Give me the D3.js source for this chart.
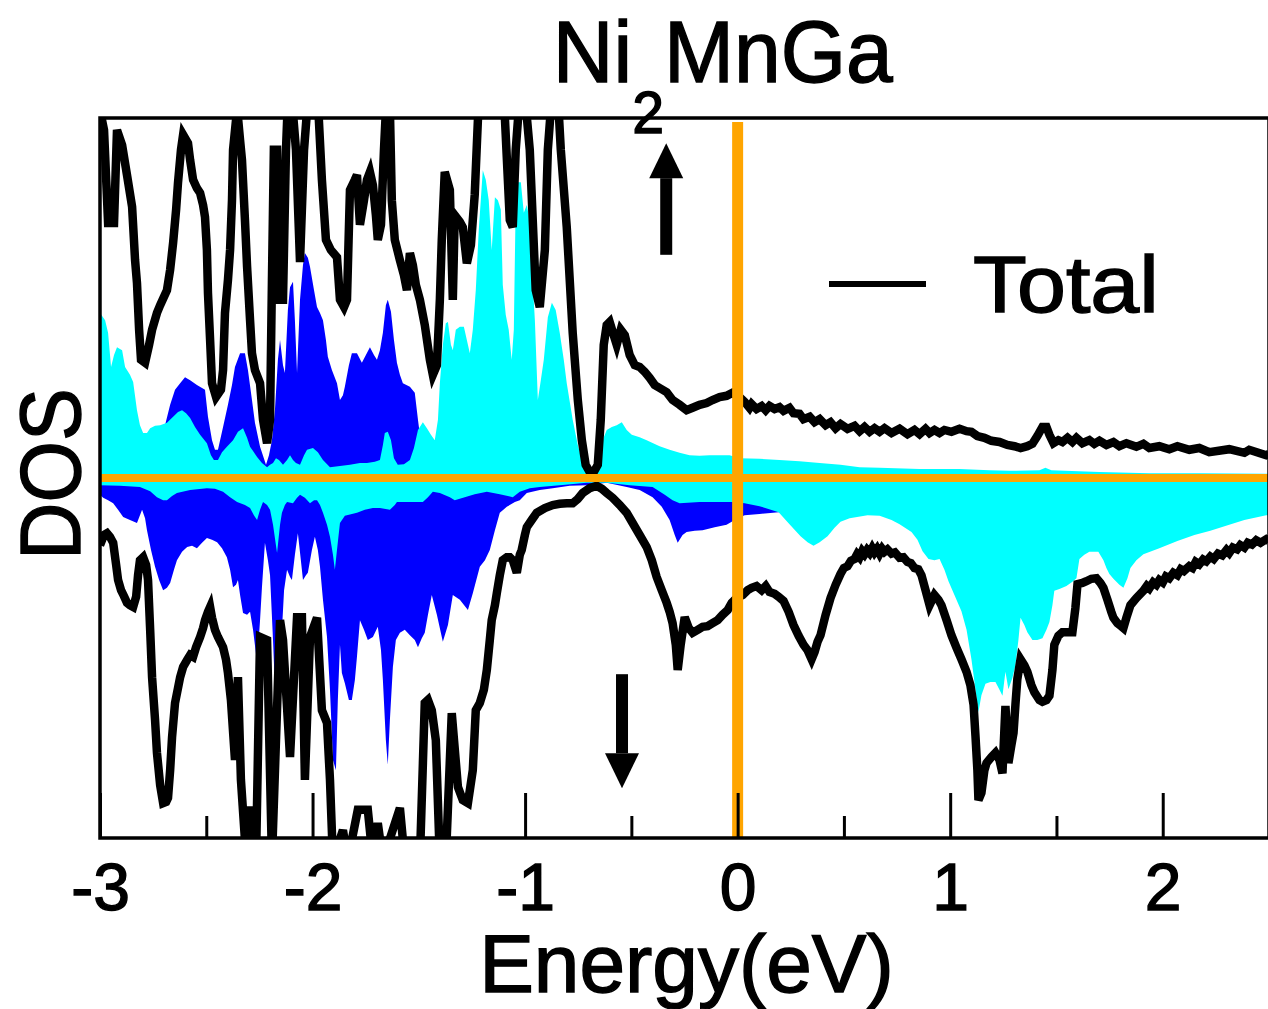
<!DOCTYPE html>
<html>
<head>
<meta charset="utf-8">
<script src="https://cdn.jsdelivr.net/npm/d3@7"></script>
<style>
  html, body { margin: 0; padding: 0; background: #fff; }
  svg { display: block; font-family: "Liberation Sans", Arial, Helvetica, sans-serif; }
  .label { fill: #000; stroke: #000; stroke-width: 1.4; }
</style>
</head>
<body>
<svg id="chart" width="1268" height="1009"></svg>
<script>
// Spin-resolved density of states of Ni2MnGa, energies in eV relative to E_F.
// Each series is a list of [energy, DOS]; spin-down values are negative.

const majorTicks = [-3, -2, -1, 0, 1, 2];
const minorTicks = [-2.5, -1.5, -0.5, 0.5, 1.5];

// Total DOS, spin up
const totalUp = [
  [-3.000, 6.13], [-2.981, 5.80], [-2.962, 4.25], [-2.934, 4.25], [-2.920, 5.80], [-2.896, 5.55],
  [-2.873, 5.05], [-2.849, 4.52], [-2.835, 3.63], [-2.826, 3.25], [-2.816, 2.47], [-2.807, 1.97],
  [-2.788, 1.92], [-2.769, 2.22], [-2.755, 2.47], [-2.732, 2.75], [-2.717, 2.88], [-2.685, 3.13],
  [-2.670, 3.47], [-2.656, 3.92], [-2.642, 4.47], [-2.633, 4.92], [-2.619, 5.47], [-2.609, 5.72],
  [-2.586, 5.58], [-2.576, 5.30], [-2.562, 4.97], [-2.544, 4.83], [-2.529, 4.75], [-2.515, 4.55],
  [-2.506, 4.35], [-2.497, 3.80], [-2.492, 3.08], [-2.482, 2.30], [-2.473, 1.58], [-2.454, 1.35],
  [-2.431, 1.47], [-2.421, 1.80], [-2.412, 2.75], [-2.398, 3.30], [-2.388, 3.80], [-2.379, 4.63],
  [-2.374, 5.47], [-2.360, 5.97], [-2.355, 6.17], [-2.341, 5.63], [-2.332, 5.30], [-2.318, 4.30],
  [-2.308, 3.52], [-2.294, 2.63], [-2.285, 2.08], [-2.271, 1.80], [-2.247, 1.58], [-2.233, 0.97],
  [-2.214, 0.58], [-2.200, 0.97], [-2.191, 3.30], [-2.182, 5.47], [-2.167, 5.47], [-2.153, 2.97],
  [-2.139, 2.97], [-2.125, 5.47], [-2.116, 6.30], [-2.097, 6.30], [-2.078, 5.47], [-2.059, 3.60],
  [-2.040, 5.47], [-2.022, 6.30], [-1.975, 6.30], [-1.956, 4.97], [-1.937, 3.97], [-1.914, 3.80],
  [-1.885, 3.68], [-1.871, 2.97], [-1.852, 2.85], [-1.838, 2.97], [-1.824, 4.80], [-1.801, 4.97],
  [-1.791, 5.05], [-1.777, 4.22], [-1.758, 4.63], [-1.744, 4.97], [-1.730, 5.10], [-1.716, 4.88],
  [-1.702, 4.38], [-1.693, 3.97], [-1.678, 4.22], [-1.664, 5.47], [-1.655, 6.13], [-1.636, 6.13],
  [-1.627, 4.63], [-1.613, 3.97], [-1.589, 3.63], [-1.570, 3.38], [-1.556, 3.13], [-1.542, 3.75],
  [-1.528, 3.55], [-1.514, 3.22], [-1.495, 2.97], [-1.472, 2.55], [-1.448, 1.97], [-1.434, 1.72],
  [-1.415, 1.88], [-1.401, 2.97], [-1.392, 3.97], [-1.378, 5.10], [-1.354, 4.80], [-1.340, 2.97],
  [-1.331, 4.38], [-1.307, 4.27], [-1.293, 4.18], [-1.274, 3.58], [-1.255, 3.88], [-1.237, 4.72],
  [-1.222, 5.97], [-1.204, 6.38], [-1.119, 6.38], [-1.095, 6.00], [-1.072, 4.30], [-1.058, 4.18],
  [-1.044, 5.47], [-1.025, 6.38], [-1.001, 6.38], [-0.978, 5.47], [-0.950, 3.13], [-0.931, 2.85],
  [-0.907, 3.80], [-0.893, 5.47], [-0.874, 6.38], [-0.846, 6.38], [-0.832, 5.47], [-0.804, 4.18],
  [-0.776, 2.42], [-0.752, 1.30], [-0.733, 0.63], [-0.715, 0.22], [-0.696, 0.10], [-0.677, 0.10],
  [-0.658, 0.22], [-0.644, 0.97], [-0.630, 2.22], [-0.616, 2.55], [-0.602, 2.60], [-0.583, 2.38],
  [-0.569, 2.22], [-0.550, 2.47], [-0.531, 2.38], [-0.508, 2.05], [-0.484, 1.88], [-0.461, 1.85],
  [-0.437, 1.77], [-0.414, 1.67], [-0.390, 1.55], [-0.367, 1.50], [-0.334, 1.43], [-0.306, 1.30],
  [-0.273, 1.22], [-0.240, 1.13], [-0.212, 1.17], [-0.179, 1.22], [-0.146, 1.25], [-0.118, 1.30],
  [-0.085, 1.35], [-0.052, 1.37], [-0.024, 1.42], [0.000, 1.38], [0.033, 1.27], [0.056, 1.17],
  [0.066, 1.23], [0.089, 1.15], [0.113, 1.20], [0.132, 1.13], [0.150, 1.20], [0.174, 1.15],
  [0.197, 1.18], [0.216, 1.12], [0.244, 1.17], [0.263, 1.08], [0.291, 1.07], [0.310, 0.98],
  [0.339, 1.02], [0.362, 0.93], [0.386, 0.98], [0.414, 0.88], [0.437, 0.93], [0.461, 0.83],
  [0.484, 0.90], [0.517, 0.82], [0.550, 0.87], [0.574, 0.78], [0.597, 0.85], [0.621, 0.77],
  [0.644, 0.83], [0.668, 0.77], [0.691, 0.83], [0.724, 0.75], [0.762, 0.82], [0.799, 0.73],
  [0.832, 0.80], [0.856, 0.73], [0.884, 0.82], [0.903, 0.75], [0.926, 0.80], [0.950, 0.75],
  [0.973, 0.80], [1.006, 0.77], [1.044, 0.82], [1.077, 0.78], [1.100, 0.77], [1.128, 0.70],
  [1.161, 0.67], [1.194, 0.62], [1.232, 0.60], [1.269, 0.55], [1.302, 0.53], [1.331, 0.50],
  [1.363, 0.53], [1.387, 0.57], [1.410, 0.70], [1.434, 0.85], [1.453, 0.85], [1.467, 0.72],
  [1.486, 0.58], [1.509, 0.63], [1.528, 0.60], [1.552, 0.67], [1.575, 0.60], [1.594, 0.67],
  [1.622, 0.58], [1.655, 0.63], [1.678, 0.57], [1.702, 0.62], [1.735, 0.55], [1.768, 0.60],
  [1.796, 0.53], [1.829, 0.58], [1.876, 0.52], [1.909, 0.57], [1.937, 0.50], [1.984, 0.53],
  [2.031, 0.48], [2.069, 0.53], [2.125, 0.47], [2.172, 0.50], [2.219, 0.43], [2.313, 0.48],
  [2.384, 0.42], [2.407, 0.47], [2.487, 0.38], [2.500, 0.40]
];

// Total DOS, spin down
const totalDown = [
  [-3.000, -1.12], [-2.981, -0.95], [-2.967, -0.92], [-2.953, -0.98], [-2.938, -1.08], [-2.924, -1.45],
  [-2.915, -1.70], [-2.901, -1.87], [-2.887, -1.97], [-2.873, -2.08], [-2.859, -2.12], [-2.844, -2.15],
  [-2.830, -1.98], [-2.821, -1.62], [-2.812, -1.37], [-2.797, -1.32], [-2.783, -1.45], [-2.774, -1.70],
  [-2.764, -2.53], [-2.755, -3.32], [-2.741, -4.03], [-2.732, -4.58], [-2.717, -5.12], [-2.703, -5.42],
  [-2.689, -5.40], [-2.680, -5.33], [-2.670, -4.87], [-2.661, -4.32], [-2.647, -3.75], [-2.633, -3.50],
  [-2.623, -3.32], [-2.609, -3.15], [-2.590, -3.03], [-2.576, -2.95], [-2.562, -2.98], [-2.548, -2.82],
  [-2.529, -2.65], [-2.515, -2.50], [-2.506, -2.37], [-2.492, -2.23], [-2.482, -2.15], [-2.473, -2.33],
  [-2.459, -2.53], [-2.445, -2.65], [-2.421, -2.82], [-2.407, -3.03], [-2.398, -3.25], [-2.384, -3.70],
  [-2.365, -4.70], [-2.351, -3.32], [-2.337, -5.03], [-2.318, -6.03], [-2.294, -5.48], [-2.280, -5.92],
  [-2.266, -6.37], [-2.247, -2.65], [-2.214, -2.70], [-2.191, -6.37], [-2.153, -2.37], [-2.139, -2.70],
  [-2.106, -4.65], [-2.073, -2.32], [-2.050, -2.32], [-2.036, -5.03], [-2.012, -2.65], [-1.979, -2.33],
  [-1.956, -3.87], [-1.932, -4.08], [-1.918, -5.03], [-1.904, -6.37], [-1.857, -5.87], [-1.834, -6.37],
  [-1.787, -5.53], [-1.740, -5.53], [-1.716, -6.37], [-1.693, -5.75], [-1.669, -6.37], [-1.589, -5.50],
  [-1.566, -6.37], [-1.495, -6.37], [-1.472, -3.75], [-1.457, -3.70], [-1.439, -3.87], [-1.420, -4.37],
  [-1.401, -6.37], [-1.373, -6.37], [-1.345, -3.92], [-1.316, -5.15], [-1.293, -5.37], [-1.269, -5.42],
  [-1.246, -4.87], [-1.232, -3.87], [-1.213, -3.75], [-1.194, -3.53], [-1.180, -3.20], [-1.166, -2.70],
  [-1.157, -2.37], [-1.142, -2.12], [-1.133, -1.92], [-1.119, -1.62], [-1.105, -1.37], [-1.086, -1.32],
  [-1.072, -1.32], [-1.058, -1.37], [-1.039, -1.58], [-1.025, -1.28], [-1.016, -1.20], [-1.001, -0.95],
  [-0.992, -0.82], [-0.969, -0.70], [-0.945, -0.58], [-0.907, -0.50], [-0.870, -0.45], [-0.837, -0.43],
  [-0.804, -0.42], [-0.776, -0.42], [-0.752, -0.35], [-0.729, -0.25], [-0.696, -0.17], [-0.663, -0.13],
  [-0.639, -0.18], [-0.616, -0.25], [-0.588, -0.33], [-0.555, -0.45], [-0.522, -0.58], [-0.494, -0.75],
  [-0.461, -0.95], [-0.428, -1.15], [-0.404, -1.37], [-0.381, -1.65], [-0.357, -1.87], [-0.334, -2.08],
  [-0.320, -2.23], [-0.306, -2.42], [-0.291, -2.78], [-0.282, -3.20], [-0.268, -2.78], [-0.249, -2.32],
  [-0.230, -2.50], [-0.212, -2.58], [-0.188, -2.53], [-0.165, -2.48], [-0.141, -2.47], [-0.118, -2.42],
  [-0.094, -2.37], [-0.071, -2.28], [-0.047, -2.20], [-0.028, -2.08], [-0.005, -2.00], [0.024, -1.95],
  [0.047, -1.87], [0.066, -1.83], [0.089, -1.80], [0.113, -1.87], [0.132, -1.80], [0.150, -1.90],
  [0.174, -1.93], [0.193, -1.98], [0.216, -2.05], [0.240, -2.23], [0.263, -2.45], [0.287, -2.63],
  [0.310, -2.78], [0.329, -2.87], [0.348, -3.02], [0.362, -2.90], [0.376, -2.73], [0.390, -2.62],
  [0.414, -2.28], [0.437, -2.00], [0.461, -1.78], [0.484, -1.60], [0.500, -1.50], [0.517, -1.47],
  [0.533, -1.38], [0.550, -1.35], [0.562, -1.27], [0.574, -1.32], [0.586, -1.22], [0.597, -1.27],
  [0.609, -1.20], [0.621, -1.25], [0.633, -1.17], [0.644, -1.24], [0.656, -1.18], [0.668, -1.26],
  [0.680, -1.18], [0.691, -1.23], [0.705, -1.19], [0.724, -1.26], [0.740, -1.24], [0.762, -1.33],
  [0.780, -1.32], [0.799, -1.40], [0.815, -1.42], [0.832, -1.50], [0.850, -1.52], [0.865, -1.62],
  [0.884, -1.87], [0.903, -2.12], [0.926, -1.95], [0.945, -2.03], [0.959, -2.12], [0.983, -2.37],
  [1.006, -2.62], [1.030, -2.83], [1.053, -3.02], [1.077, -3.23], [1.095, -3.45], [1.110, -3.78],
  [1.119, -4.30], [1.128, -4.87], [1.133, -5.37], [1.147, -5.25], [1.161, -4.87], [1.171, -4.75],
  [1.194, -4.65], [1.213, -4.58], [1.232, -4.70], [1.246, -4.92], [1.260, -3.80], [1.269, -4.37],
  [1.274, -4.75], [1.288, -4.45], [1.298, -4.25], [1.307, -3.78], [1.316, -3.35], [1.331, -3.02],
  [1.349, -3.12], [1.363, -3.23], [1.382, -3.45], [1.396, -3.57], [1.420, -3.70], [1.434, -3.73],
  [1.453, -3.70], [1.467, -3.63], [1.481, -3.20], [1.490, -2.78], [1.509, -2.63], [1.528, -2.57],
  [1.552, -2.57], [1.575, -2.57], [1.589, -2.17], [1.599, -1.77], [1.622, -1.75], [1.641, -1.72],
  [1.664, -1.68], [1.688, -1.67], [1.707, -1.75], [1.721, -1.83], [1.740, -2.03], [1.758, -2.23],
  [1.768, -2.33], [1.787, -2.42], [1.805, -2.47], [1.815, -2.50], [1.829, -2.33], [1.848, -2.12],
  [1.876, -2.00], [1.909, -1.88], [1.925, -1.80], [1.937, -1.84], [1.955, -1.74], [1.970, -1.78],
  [1.984, -1.70], [2.000, -1.74], [2.015, -1.64], [2.031, -1.67], [2.050, -1.58], [2.069, -1.62],
  [2.085, -1.52], [2.100, -1.55], [2.125, -1.47], [2.140, -1.50], [2.155, -1.40], [2.172, -1.44],
  [2.190, -1.36], [2.205, -1.39], [2.224, -1.31], [2.240, -1.35], [2.260, -1.26], [2.280, -1.29],
  [2.300, -1.20], [2.313, -1.25], [2.330, -1.16], [2.350, -1.19], [2.365, -1.12], [2.384, -1.16],
  [2.400, -1.08], [2.420, -1.11], [2.440, -1.04], [2.460, -1.08], [2.487, -1.02], [2.500, -1.05]
];

// Mn partial DOS, spin up
const mnUp = [
  [-3.000, 2.75], [-2.976, 2.63], [-2.962, 2.42], [-2.948, 1.85], [-2.934, 2.05], [-2.920, 2.18],
  [-2.896, 2.13], [-2.882, 1.85], [-2.859, 1.72], [-2.844, 1.60], [-2.826, 1.13], [-2.812, 0.88],
  [-2.797, 0.75], [-2.779, 0.75], [-2.764, 0.83], [-2.741, 0.87], [-2.717, 0.88], [-2.685, 0.92],
  [-2.656, 1.02], [-2.633, 1.10], [-2.614, 1.13], [-2.595, 1.08], [-2.576, 1.00], [-2.553, 0.85],
  [-2.529, 0.72], [-2.497, 0.58], [-2.478, 0.38], [-2.464, 0.30], [-2.445, 0.30], [-2.426, 0.43],
  [-2.403, 0.52], [-2.374, 0.63], [-2.351, 0.77], [-2.327, 0.83], [-2.308, 0.67], [-2.294, 0.52],
  [-2.276, 0.43], [-2.261, 0.35], [-2.238, 0.25], [-2.214, 0.18], [-2.200, 0.22], [-2.186, 0.25],
  [-2.172, 0.33], [-2.158, 0.30], [-2.139, 0.22], [-2.120, 0.30], [-2.106, 0.38], [-2.092, 0.30],
  [-2.078, 0.25], [-2.059, 0.22], [-2.040, 0.38], [-2.026, 0.47], [-1.998, 0.50], [-1.975, 0.43],
  [-1.951, 0.30], [-1.918, 0.18], [-1.871, 0.20], [-1.824, 0.22], [-1.777, 0.25], [-1.744, 0.25],
  [-1.707, 0.27], [-1.683, 0.30], [-1.669, 0.55], [-1.660, 0.75], [-1.646, 0.77], [-1.631, 0.63],
  [-1.617, 0.33], [-1.599, 0.22], [-1.570, 0.23], [-1.542, 0.30], [-1.523, 0.50], [-1.504, 0.80],
  [-1.481, 0.93], [-1.462, 0.83], [-1.443, 0.72], [-1.425, 0.63], [-1.410, 0.97], [-1.401, 1.58],
  [-1.387, 2.22], [-1.373, 2.58], [-1.363, 2.60], [-1.349, 2.22], [-1.340, 2.13], [-1.326, 2.47],
  [-1.307, 2.52], [-1.288, 2.52], [-1.269, 2.22], [-1.260, 2.08], [-1.246, 2.47], [-1.232, 3.13],
  [-1.218, 4.13], [-1.199, 5.13], [-1.185, 4.97], [-1.171, 4.63], [-1.157, 3.80], [-1.142, 4.68],
  [-1.128, 4.63], [-1.114, 4.47], [-1.105, 3.22], [-1.091, 2.72], [-1.077, 2.47], [-1.063, 1.97],
  [-1.053, 2.47], [-1.044, 4.63], [-1.034, 4.93], [-1.020, 4.93], [-1.006, 4.42], [-0.992, 4.55],
  [-0.983, 4.38], [-0.969, 3.55], [-0.954, 2.63], [-0.940, 1.30], [-0.926, 1.63], [-0.912, 1.97],
  [-0.893, 2.68], [-0.874, 2.92], [-0.856, 2.80], [-0.837, 2.42], [-0.818, 1.97], [-0.804, 1.58],
  [-0.776, 0.97], [-0.752, 0.55], [-0.733, 0.30], [-0.710, 0.13], [-0.668, 0.13], [-0.649, 0.43],
  [-0.635, 0.63], [-0.616, 0.80], [-0.592, 0.85], [-0.569, 0.88], [-0.545, 0.93], [-0.522, 0.80],
  [-0.498, 0.72], [-0.461, 0.68], [-0.428, 0.63], [-0.367, 0.53], [-0.320, 0.47], [-0.273, 0.42],
  [-0.226, 0.38], [-0.179, 0.37], [-0.132, 0.38], [-0.085, 0.38], [-0.038, 0.38], [0.009, 0.33],
  [0.103, 0.32], [0.197, 0.30], [0.291, 0.28], [0.386, 0.25], [0.484, 0.22], [0.574, 0.18],
  [0.668, 0.17], [0.856, 0.15], [1.044, 0.15], [1.185, 0.13], [1.279, 0.12], [1.420, 0.13],
  [1.448, 0.17], [1.476, 0.13], [1.702, 0.10], [1.937, 0.08], [2.172, 0.08], [2.487, 0.07],
  [2.500, 0.07]
];

// Mn partial DOS, spin down
const mnDown = [
  [-3.000, -0.12], [-2.906, -0.13], [-2.812, -0.15], [-2.764, -0.22], [-2.732, -0.32], [-2.703, -0.37],
  [-2.685, -0.37], [-2.661, -0.30], [-2.638, -0.25], [-2.576, -0.20], [-2.497, -0.17], [-2.459, -0.18],
  [-2.421, -0.23], [-2.388, -0.32], [-2.355, -0.40], [-2.318, -0.45], [-2.294, -0.50], [-2.276, -0.62],
  [-2.261, -0.70], [-2.247, -0.53], [-2.233, -0.40], [-2.214, -0.45], [-2.200, -0.53], [-2.186, -0.78],
  [-2.167, -1.25], [-2.153, -0.78], [-2.144, -0.58], [-2.130, -0.45], [-2.120, -0.40], [-2.092, -0.42],
  [-2.073, -0.33], [-2.059, -0.28], [-2.036, -0.33], [-2.012, -0.42], [-1.993, -0.37], [-1.979, -0.37],
  [-1.965, -0.45], [-1.951, -0.58], [-1.932, -0.78], [-1.918, -0.98], [-1.904, -1.28], [-1.895, -1.53],
  [-1.885, -1.20], [-1.871, -0.75], [-1.848, -0.63], [-1.791, -0.58], [-1.754, -0.53], [-1.716, -0.50],
  [-1.683, -0.50], [-1.636, -0.53], [-1.613, -0.45], [-1.603, -0.40], [-1.542, -0.40], [-1.481, -0.40],
  [-1.457, -0.32], [-1.434, -0.23], [-1.401, -0.25], [-1.354, -0.32], [-1.331, -0.37], [-1.284, -0.32],
  [-1.237, -0.27], [-1.180, -0.23], [-1.119, -0.27], [-1.058, -0.32], [-1.025, -0.23], [-0.978, -0.17],
  [-0.931, -0.15], [-0.837, -0.12], [-0.710, -0.08], [-0.616, -0.08], [-0.508, -0.12], [-0.400, -0.15],
  [-0.343, -0.28], [-0.306, -0.37], [-0.273, -0.42], [-0.179, -0.40], [-0.085, -0.40], [-0.014, -0.40],
  [0.033, -0.42], [0.103, -0.47], [0.193, -0.57], [0.244, -0.77], [0.296, -0.97], [0.329, -1.07],
  [0.357, -1.13], [0.386, -1.07], [0.423, -0.97], [0.456, -0.83], [0.484, -0.73], [0.527, -0.67],
  [0.611, -0.62], [0.668, -0.63], [0.724, -0.70], [0.762, -0.77], [0.818, -0.90], [0.846, -1.03],
  [0.870, -1.22], [0.898, -1.35], [0.926, -1.37], [0.950, -1.35], [0.973, -1.53], [0.992, -1.72],
  [1.020, -1.95], [1.053, -2.22], [1.077, -2.53], [1.100, -3.02], [1.119, -3.53], [1.133, -3.90],
  [1.147, -3.62], [1.166, -3.43], [1.189, -3.40], [1.213, -3.40], [1.232, -3.53], [1.246, -3.63],
  [1.260, -3.23], [1.274, -3.52], [1.293, -3.33], [1.307, -3.12], [1.321, -2.70], [1.331, -2.33],
  [1.349, -2.45], [1.363, -2.57], [1.387, -2.70], [1.410, -2.70], [1.434, -2.67], [1.453, -2.53],
  [1.467, -2.40], [1.481, -2.12], [1.490, -1.88], [1.514, -1.85], [1.547, -1.80], [1.575, -1.73],
  [1.594, -1.67], [1.608, -1.35], [1.631, -1.28], [1.655, -1.23], [1.697, -1.23], [1.721, -1.37],
  [1.735, -1.50], [1.749, -1.60], [1.768, -1.68], [1.796, -1.78], [1.815, -1.83], [1.834, -1.67],
  [1.848, -1.50], [1.876, -1.37], [1.909, -1.27], [1.984, -1.17], [2.069, -1.05], [2.149, -0.95],
  [2.224, -0.88], [2.313, -0.78], [2.384, -0.70], [2.487, -0.62], [2.500, -0.62]
];

// Ni partial DOS, spin up
const niUp = [
  [-3.000, 0.47], [-2.859, 0.38], [-2.764, 0.55], [-2.717, 0.67], [-2.694, 0.88], [-2.670, 1.22],
  [-2.647, 1.47], [-2.623, 1.58], [-2.600, 1.68], [-2.576, 1.63], [-2.544, 1.55], [-2.506, 1.47],
  [-2.492, 1.02], [-2.473, 0.63], [-2.459, 0.47], [-2.445, 0.47], [-2.421, 0.85], [-2.398, 1.22],
  [-2.379, 1.55], [-2.365, 1.85], [-2.341, 2.08], [-2.318, 2.08], [-2.304, 1.80], [-2.285, 1.30],
  [-2.271, 0.92], [-2.247, 0.52], [-2.219, 0.22], [-2.205, 0.38], [-2.191, 0.63], [-2.177, 1.13],
  [-2.163, 1.97], [-2.153, 2.30], [-2.139, 1.88], [-2.130, 1.75], [-2.116, 2.80], [-2.106, 3.18],
  [-2.092, 3.27], [-2.083, 2.63], [-2.073, 1.75], [-2.059, 2.97], [-2.045, 3.55], [-2.036, 3.75],
  [-2.022, 3.67], [-2.012, 3.52], [-1.993, 3.13], [-1.979, 2.85], [-1.965, 2.75], [-1.951, 2.63],
  [-1.937, 2.30], [-1.928, 2.02], [-1.909, 1.80], [-1.885, 1.58], [-1.871, 1.30], [-1.857, 1.38],
  [-1.848, 1.52], [-1.829, 1.88], [-1.815, 2.08], [-1.791, 2.08], [-1.768, 1.92], [-1.749, 2.05],
  [-1.730, 2.18], [-1.711, 2.05], [-1.697, 1.97], [-1.683, 2.13], [-1.669, 2.42], [-1.655, 2.88],
  [-1.646, 2.97], [-1.631, 2.77], [-1.617, 2.30], [-1.603, 1.92], [-1.589, 1.72], [-1.575, 1.58],
  [-1.542, 1.52], [-1.519, 1.42], [-1.504, 0.97], [-1.486, 0.47], [-1.448, 0.30], [-1.354, 0.27],
  [-1.119, 0.20], [-0.766, 0.15], [-0.696, 0.06], [-0.625, 0.08], [-0.179, 0.08], [2.487, 0.03],
  [2.500, 0.03]
];

// Ni partial DOS, spin down
const niDown = [
  [-3.000, -0.28], [-2.985, -0.33], [-2.962, -0.37], [-2.938, -0.42], [-2.915, -0.53], [-2.891, -0.65],
  [-2.859, -0.70], [-2.826, -0.75], [-2.812, -0.62], [-2.802, -0.53], [-2.788, -0.67], [-2.779, -0.87],
  [-2.760, -1.20], [-2.741, -1.48], [-2.722, -1.70], [-2.703, -1.87], [-2.685, -1.83], [-2.670, -1.75],
  [-2.652, -1.53], [-2.638, -1.37], [-2.614, -1.23], [-2.590, -1.15], [-2.567, -1.13], [-2.544, -1.17],
  [-2.520, -1.08], [-2.497, -1.00], [-2.473, -1.03], [-2.449, -1.07], [-2.426, -1.17], [-2.403, -1.32],
  [-2.388, -1.53], [-2.374, -1.82], [-2.360, -1.78], [-2.351, -1.70], [-2.341, -1.95], [-2.327, -2.25],
  [-2.308, -2.28], [-2.294, -2.23], [-2.280, -2.53], [-2.261, -3.08], [-2.247, -2.37], [-2.238, -1.82],
  [-2.224, -1.08], [-2.210, -1.37], [-2.200, -1.62], [-2.186, -2.70], [-2.172, -3.92], [-2.158, -3.95],
  [-2.149, -2.87], [-2.134, -1.87], [-2.120, -1.53], [-2.106, -1.65], [-2.097, -1.70], [-2.083, -1.28],
  [-2.069, -0.92], [-2.055, -1.37], [-2.045, -1.70], [-2.031, -1.62], [-2.022, -1.58], [-2.003, -1.20],
  [-1.989, -0.98], [-1.975, -1.20], [-1.965, -1.48], [-1.951, -2.03], [-1.932, -2.65], [-1.918, -3.53],
  [-1.904, -4.70], [-1.890, -4.87], [-1.881, -3.70], [-1.871, -2.78], [-1.862, -3.25], [-1.848, -3.42],
  [-1.829, -3.70], [-1.815, -3.70], [-1.801, -3.37], [-1.791, -2.98], [-1.777, -2.37], [-1.758, -2.53],
  [-1.740, -2.70], [-1.716, -2.65], [-1.693, -2.48], [-1.678, -2.87], [-1.669, -3.37], [-1.655, -4.37],
  [-1.646, -4.78], [-1.636, -4.03], [-1.622, -3.15], [-1.608, -2.70], [-1.589, -2.58], [-1.566, -2.53],
  [-1.542, -2.62], [-1.519, -2.70], [-1.504, -2.82], [-1.486, -2.67], [-1.472, -2.58], [-1.457, -2.28],
  [-1.439, -1.95], [-1.415, -2.28], [-1.387, -2.73], [-1.363, -2.45], [-1.340, -1.95], [-1.307, -2.03],
  [-1.269, -2.20], [-1.246, -1.92], [-1.213, -1.48], [-1.189, -1.37], [-1.166, -1.20], [-1.142, -0.87],
  [-1.119, -0.58], [-1.086, -0.48], [-1.048, -0.40], [-1.025, -0.37], [-0.992, -0.25], [-0.931, -0.20],
  [-0.870, -0.17], [-0.790, -0.13], [-0.710, -0.12], [-0.616, -0.08], [-0.522, -0.15], [-0.461, -0.20],
  [-0.400, -0.32], [-0.357, -0.48], [-0.320, -0.70], [-0.296, -0.95], [-0.282, -1.08], [-0.259, -0.95],
  [-0.240, -0.90], [-0.202, -0.88], [-0.165, -0.87], [-0.108, -0.82], [-0.052, -0.78], [0.000, -0.67],
  [0.033, -0.62], [0.103, -0.60], [0.193, -0.57], [0.244, -0.62], [0.611, -0.50], [1.232, -0.45],
  [2.487, -0.37], [2.500, -0.37]
];

// ---- layout ----
const svg = d3.select("#chart");
const plot = { left: 100, right: 1269, top: 118, bottom: 838 };

const x = d3.scaleLinear().domain([-3, 2.5]).range([plot.left, plot.right]);
const y = d3.scaleLinear().domain([-6, 6]).range([plot.bottom, plot.top]);

svg.append("rect").attr("width", 1268).attr("height", 1009).attr("fill", "#fff");

svg.append("defs").append("clipPath").attr("id", "plotClip")
  .append("rect")
  .attr("x", plot.left).attr("y", plot.top)
  .attr("width", plot.right - plot.left).attr("height", plot.bottom - plot.top);

const body = svg.append("g").attr("clip-path", "url(#plotClip)");

const area = d3.area()
  .x(d => x(d[0]))
  .y0(y(0))
  .y1(d => y(d[1]));

const line = d3.line()
  .x(d => x(d[0]))
  .y(d => y(d[1]));

// Ni (blue) underneath, Mn (cyan) painted over it
[niUp, niDown].forEach(s =>
  body.append("path").datum(s).attr("d", area).attr("fill", "#0000ff"));
[mnUp, mnDown].forEach(s =>
  body.append("path").datum(s).attr("d", area).attr("fill", "#00ffff"));

// total DOS
[totalUp, totalDown].forEach(s =>
  body.append("path").datum(s).attr("d", line)
    .attr("fill", "none").attr("stroke", "#000")
    .attr("stroke-width", 8.5).attr("stroke-linejoin", "miter"));

// zero lines: DOS = 0 and the Fermi level
svg.append("line")
  .attr("x1", plot.left).attr("x2", 1268)
  .attr("y1", y(0)).attr("y2", y(0))
  .attr("stroke", "#ffa500").attr("stroke-width", 8);
svg.append("line")
  .attr("x1", x(0)).attr("x2", x(0))
  .attr("y1", 122).attr("y2", plot.bottom)
  .attr("stroke", "#ffa500").attr("stroke-width", 11);

// frame
svg.append("rect")
  .attr("x", plot.left).attr("y", plot.top)
  .attr("width", plot.right - plot.left).attr("height", plot.bottom - plot.top)
  .attr("fill", "none").attr("stroke", "#000").attr("stroke-width", 3.5);

// bottom axis: inward major and minor ticks
const majorAxis = d3.axisBottom(x)
  .tickValues(majorTicks)
  .tickSize(-45)
  .tickPadding(25)
  .tickFormat(d => String(d));
const gx = svg.append("g").attr("transform", `translate(0,${plot.bottom})`).call(majorAxis);
gx.select(".domain").remove();
gx.selectAll(".tick line").attr("stroke", "#000").attr("stroke-width", 3);
gx.selectAll(".tick text")
  .attr("class", "label")
  .attr("font-size", 66)
  .attr("font-family", "'Liberation Sans', Arial, Helvetica, sans-serif");

const minorAxis = d3.axisBottom(x)
  .tickValues(minorTicks)
  .tickSize(-22)
  .tickFormat("");
const gm = svg.append("g").attr("transform", `translate(0,${plot.bottom})`).call(minorAxis);
gm.select(".domain").remove();
gm.selectAll(".tick line").attr("stroke", "#000").attr("stroke-width", 3);

// axis titles
svg.append("text")
  .attr("class", "label")
  .attr("x", (plot.left + plot.right) / 2 + 2)
  .attr("y", 992)
  .attr("text-anchor", "middle")
  .attr("font-size", 82)
  .text("Energy(eV)");

svg.append("g")
  .attr("transform", "translate(80,474) rotate(-90) scale(0.92,1)")
  .append("text")
  .attr("class", "label")
  .attr("text-anchor", "middle")
  .attr("font-size", 86)
  .text("DOS");

// chart title with subscript
const title = svg.append("g")
  .attr("transform", "translate(559,82) scale(0.955,1)")
  .append("text")
  .attr("class", "label")
  .attr("x", -6.5)
  .attr("font-size", 88);
title.append("tspan").text("Ni");
title.append("tspan").attr("dy", 51).attr("font-size", 60).text("2");
title.append("tspan").attr("dy", -51).attr("font-size", 88).text("MnGa");

// spin direction arrows
function arrow(e, vTail, vTip) {
  const cx = x(e), yTail = y(vTail), yTip = y(vTip);
  const dir = yTip < yTail ? -1 : 1;
  const headLen = 35, headHalf = 17, shaftHalf = 6;
  const yBase = yTip - dir * headLen;
  svg.append("rect")
    .attr("x", cx - shaftHalf).attr("width", shaftHalf * 2)
    .attr("y", Math.min(yTail, yBase)).attr("height", Math.abs(yTail - yBase))
    .attr("fill", "#000");
  svg.append("path")
    .attr("d", `M${cx - headHalf},${yBase} L${cx + headHalf},${yBase} L${cx},${yTip} Z`)
    .attr("fill", "#000");
}
arrow(-0.336, 3.72, 5.58);
arrow(-0.544, -3.27, -5.17);

// legend
svg.append("line")
  .attr("x1", 829).attr("x2", 926)
  .attr("y1", 284).attr("y2", 284)
  .attr("stroke", "#000").attr("stroke-width", 6);
svg.append("g")
  .attr("transform", "translate(973,312) scale(1.1,1)")
  .append("text")
  .attr("class", "label")
  .attr("font-size", 80)
  .text("Total");
</script>
</body>
</html>
